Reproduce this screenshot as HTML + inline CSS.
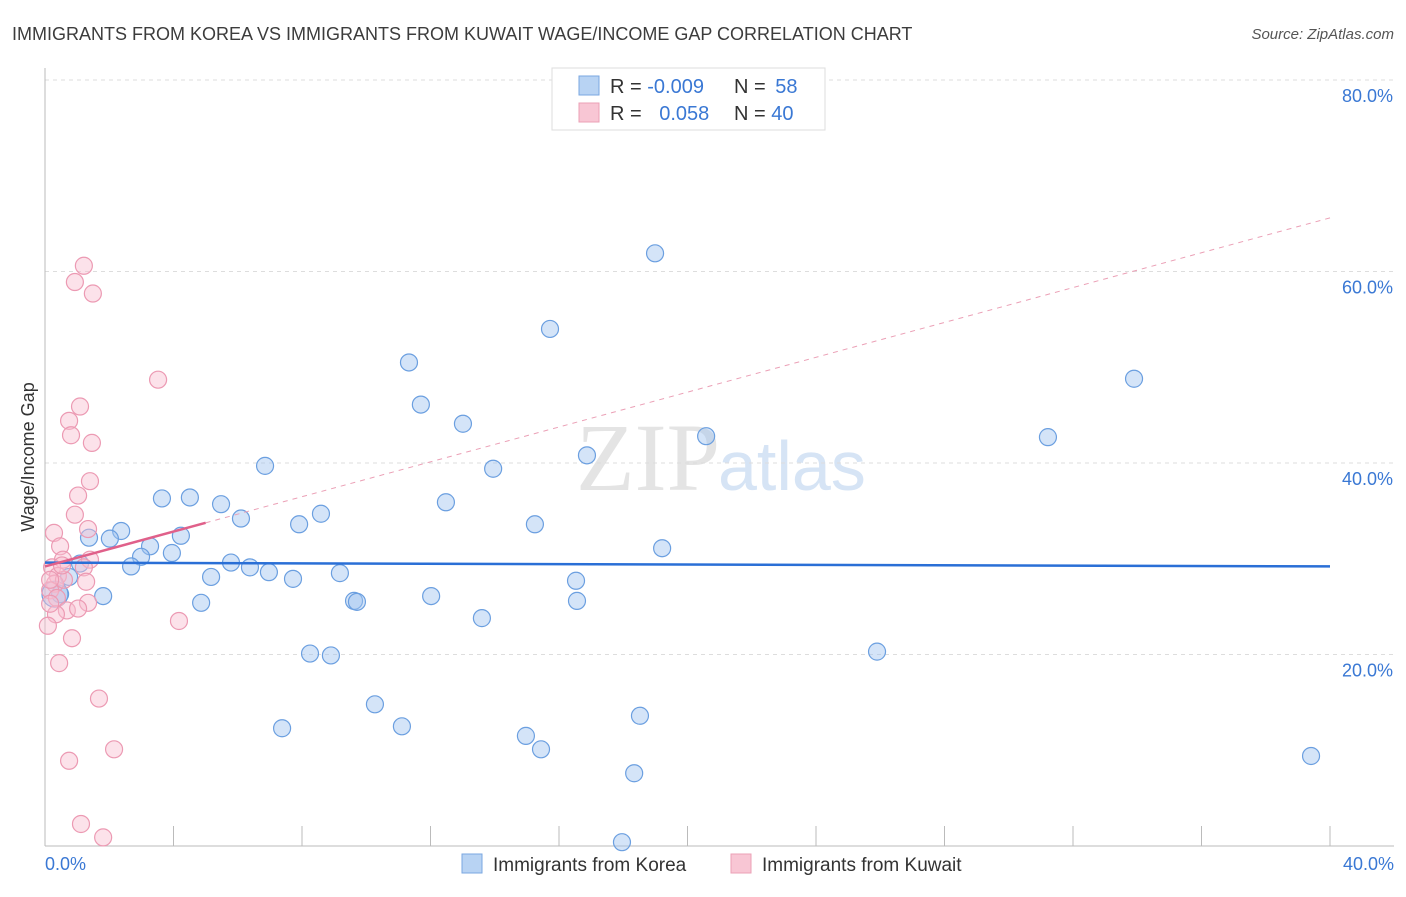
<!DOCTYPE html>
<html><head><meta charset="utf-8"><style>
body{margin:0;background:#fff;font-family:"Liberation Sans",sans-serif}
#wrap{position:relative;width:1406px;height:892px}
</style></head><body>
<div id="wrap">
<svg id="svg" width="1406" height="892" xmlns="http://www.w3.org/2000/svg" font-family="Liberation Sans, sans-serif">
<text x="12" y="40" font-size="18" fill="#3c3c3c">IMMIGRANTS FROM KOREA VS IMMIGRANTS FROM KUWAIT WAGE/INCOME GAP CORRELATION CHART</text>
<text x="1394" y="39" font-size="15" fill="#555" font-style="italic" text-anchor="end">Source: ZipAtlas.com</text>
<text x="720" y="490" font-size="96" fill="#e4e4e4" text-anchor="end" font-family="Liberation Serif, serif">ZIP</text>
<text x="718" y="490" font-size="70" fill="#d6e4f5">atlas</text>
<g id="grid"></g>
<line x1="45" y1="68" x2="45" y2="846" stroke="#bbb"/>
<line x1="45" y1="846" x2="1394" y2="846" stroke="#bbb"/>
<text transform="translate(34,457) rotate(-90)" font-size="18" fill="#333" text-anchor="middle">Wage/Income Gap</text>
<text x="45" y="870" font-size="18" fill="#3a78d4">0.0%</text>
<text x="1394" y="870" font-size="18" fill="#3a78d4" text-anchor="end">40.0%</text>
<g id="marks"></g>
<g id="lines"></g>
<g>
<rect x="552" y="68" width="273" height="62" fill="#fff" stroke="#ddd"/>
<rect x="579" y="76" width="20" height="19" fill="#b8d3f3" stroke="#7aa7e0"/>
<rect x="579" y="103" width="20" height="19" fill="#f8c6d4" stroke="#eba0b6"/>
<text x="610" y="93" font-size="20" fill="#333">R = <tspan fill="#3a78d4">-0.009</tspan></text>
<text x="734" y="93" font-size="20" fill="#333">N = <tspan fill="#3a78d4" dx="4">58</tspan></text>
<text x="610" y="120" font-size="20" fill="#333">R = <tspan fill="#3a78d4" dx="12">0.058</tspan></text>
<text x="734" y="120" font-size="20" fill="#333">N = <tspan fill="#3a78d4">40</tspan></text>
</g>
<g>
<rect x="462" y="854" width="20" height="19" fill="#b8d3f3" stroke="#7aa7e0"/>
<text x="493" y="871" font-size="19" fill="#333">Immigrants from Korea</text>
<rect x="731" y="854" width="20" height="19" fill="#f8c6d4" stroke="#eba0b6"/>
<text x="762" y="871" font-size="19" fill="#333">Immigrants from Kuwait</text>
</g>
</svg></div>
<script>
const yTicks=[20,40,60,80];
const yTickLabels=["20.0%","40.0%","60.0%","80.0%"];
const xTicks=[0,4,8,12,16,20,24,28,32,36,40];
const koreaX=[18.99,15.72,11.33,11.70,13.01,33.90,31.22,20.58,16.87,6.85,13.95,3.64,4.51,5.48,12.48,6.10,7.91,8.59,15.25,2.37,1.37,2.02,4.23,3.27,3.95,2.99,2.68,19.21,1.09,5.79,6.38,6.97,5.17,7.72,9.18,16.53,0.75,0.47,1.81,4.86,9.62,9.71,12.02,16.56,13.60,25.90,8.25,8.90,10.27,7.38,11.11,18.52,14.97,15.44,18.34,39.41,17.96,0.31];
const koreaY=[61.9,54.0,50.5,46.1,44.1,48.8,42.7,42.8,40.8,39.7,39.4,36.3,36.4,35.7,35.9,34.2,33.6,34.7,33.6,32.9,32.2,32.1,32.4,31.3,30.6,30.2,29.2,31.1,29.5,29.6,29.1,28.6,28.1,27.9,28.5,27.7,28.1,26.3,26.1,25.4,25.6,25.5,26.1,25.6,23.8,20.3,20.1,19.9,14.8,12.3,12.5,13.6,11.5,10.1,7.6,9.4,0.4,26.3];
const kuwaitX=[1.21,0.93,1.49,3.52,1.09,0.75,0.81,1.46,1.40,1.03,0.93,1.34,0.28,0.47,0.56,1.40,0.22,1.21,0.40,0.31,1.28,0.59,0.16,0.37,1.34,0.68,1.03,0.34,0.09,4.17,0.84,0.44,1.68,2.15,0.75,1.12,1.81,0.16,0.16,0.53];
const kuwaitY=[60.6,58.9,57.7,48.7,45.9,44.4,42.9,42.1,38.1,36.6,34.6,33.1,32.7,31.3,29.9,29.9,29.1,29.1,28.2,27.4,27.6,27.8,26.7,25.9,25.4,24.6,24.8,24.2,23.0,23.5,21.7,19.1,15.4,10.1,8.9,2.3,0.9,25.3,27.8,29.3];
const koreaTrend=[29.6,29.2];
const kuwaitTrend=[29.2,65.6];
const kuwaitSolidEnd=5;
const NS="http://www.w3.org/2000/svg";
const sx=v=>45+v/40*1285, sy=v=>846-v/20*191.5;
function mk(t,a,p){const e=document.createElementNS(NS,t);for(const k in a)e.setAttribute(k,a[k]);p.appendChild(e);return e;}
const grid=document.getElementById('grid'),marks=document.getElementById('marks'),lines=document.getElementById('lines');
yTicks.forEach((t,i)=>{
 const l=mk('line',{x1:45,x2:1394,y1:sy(t),y2:sy(t),stroke:'#ddd','stroke-dasharray':'4,4'},grid);
 
 
 const tx=mk('text',{x:1393,y:sy(t)+22,'font-size':18,fill:'#3a78d4','text-anchor':'end'},grid);
 tx.textContent=yTickLabels[i];
 
 
});
xTicks.forEach(t=>{
 const l=mk('line',{x1:sx(t),x2:sx(t),y1:826,y2:846,stroke:'#bbb'},grid);
 
 
});
koreaX.forEach((x,i)=>{
 const c=mk('circle',{cx:sx(x),cy:sy(koreaY[i]),r:(i==koreaX.length-1?13:8.5),fill:'rgba(160,196,240,0.45)',stroke:'#6b9fe0','stroke-width':1.2},marks);
 
 
});
kuwaitX.forEach((x,i)=>{
 const c=mk('circle',{cx:sx(x),cy:sy(kuwaitY[i]),r:8.5,fill:'rgba(248,190,208,0.45)',stroke:'#ec9ab3','stroke-width':1.2},marks);
 
 
});
const kb=mk('line',{x1:sx(0),y1:sy(koreaTrend[0]),x2:sx(40),y2:sy(koreaTrend[1]),stroke:'#2a6fd6','stroke-width':2.5},lines);


const ke=kuwaitTrend[0]+(kuwaitTrend[1]-kuwaitTrend[0])*kuwaitSolidEnd/40;
const kd=mk('line',{x1:sx(kuwaitSolidEnd),y1:sy(ke),x2:sx(40),y2:sy(kuwaitTrend[1]),stroke:'#eba0b6','stroke-width':1,'stroke-dasharray':'5,5'},lines);


const ks=mk('line',{x1:sx(0),y1:sy(kuwaitTrend[0]),x2:sx(kuwaitSolidEnd),y2:sy(ke),stroke:'#e0608a','stroke-width':2.5},lines);


</script>
</body></html>
